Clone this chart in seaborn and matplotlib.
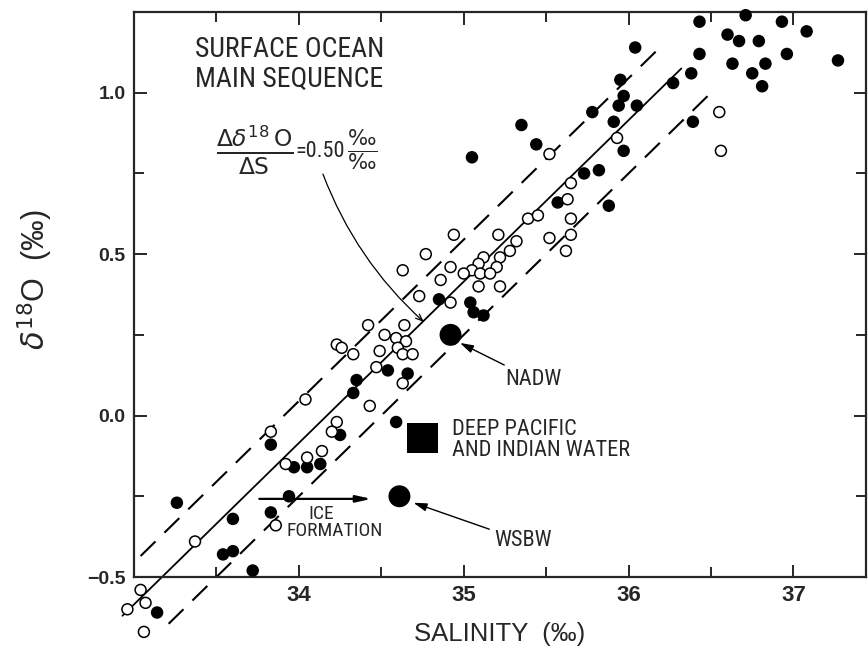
import matplotlib
matplotlib.use("Agg")
import matplotlib.pyplot as plt
from matplotlib.ticker import FixedLocator
from matplotlib import font_manager
import numpy as np
import pandas as pd
import seaborn as sns

# surface water samples, filled symbols
filled_sal = [33.26, 33.60, 33.54, 33.60, 33.72, 33.83, 33.94, 33.14,
              33.83, 34.25, 34.59, 34.05, 33.97, 34.13, 34.35, 34.33,
              34.54, 34.66, 34.85, 35.04, 35.06, 35.12,
              35.57, 35.88, 35.05, 35.35, 35.44, 35.78, 35.94, 36.05,
              35.91, 35.97, 35.73, 35.82, 35.95, 35.97, 36.04, 36.27,
              36.38, 36.39, 36.43, 36.43, 36.60, 36.67, 36.71, 36.79,
              36.63, 36.75, 36.83, 36.81, 36.93, 36.96, 37.08, 37.27]
filled_d18o = [-0.27, -0.32, -0.43, -0.42, -0.48, -0.30, -0.25, -0.61,
               -0.09, -0.06, -0.02, -0.16, -0.16, -0.15, 0.11, 0.07,
               0.14, 0.13, 0.36, 0.35, 0.32, 0.31,
               0.66, 0.65, 0.80, 0.90, 0.84, 0.94, 0.96, 0.96,
               0.91, 0.82, 0.75, 0.76, 1.04, 0.99, 1.14, 1.03,
               1.06, 0.91, 1.12, 1.22, 1.18, 1.16, 1.24, 1.16,
               1.09, 1.06, 1.09, 1.02, 1.22, 1.12, 1.19, 1.10]

# surface water samples, open symbols
open_sal = [33.37, 33.86, 33.04, 33.07, 32.96, 33.06,
            34.04, 33.83, 34.23, 34.20, 34.43, 34.14, 34.05, 33.92,
            34.47, 34.63,
            34.94, 34.77, 34.63, 34.92, 34.86, 35.12, 35.09, 35.05,
            35.00, 35.10, 35.09, 34.73, 34.92, 34.42, 34.64, 34.52,
            34.59, 34.65, 34.60, 34.23, 34.26, 34.33, 34.49, 34.63,
            34.69,
            35.65, 35.63, 35.65, 35.39, 35.45, 35.21, 35.32, 35.28,
            35.52, 35.65, 35.62, 35.22, 35.20, 35.16, 35.22,
            35.52, 35.93, 36.55, 36.56]
open_d18o = [-0.39, -0.34, -0.54, -0.58, -0.60, -0.67,
             0.05, -0.05, -0.02, -0.05, 0.03, -0.11, -0.13, -0.15,
             0.15, 0.10,
             0.56, 0.50, 0.45, 0.46, 0.42, 0.49, 0.47, 0.45,
             0.44, 0.44, 0.40, 0.37, 0.35, 0.28, 0.28, 0.25,
             0.24, 0.23, 0.21, 0.22, 0.21, 0.19, 0.20, 0.19,
             0.19,
             0.72, 0.67, 0.61, 0.61, 0.62, 0.56, 0.54, 0.51,
             0.55, 0.56, 0.51, 0.49, 0.46, 0.44, 0.40,
             0.81, 0.86, 0.94, 0.82]

# deep water masses
deep_names = ["NADW", "DEEP PACIFIC\nAND INDIAN WATER", "WSBW"]
deep_sal = [34.92, 34.75, 34.61]
deep_d18o = [0.25, -0.07, -0.25]
deep_shape = ["circle", "square", "circle"]

# main sequence: d18O = slope * S + intercept, with a band either side
slope = 0.50
intercept = -17.085
band_offsets = [0.13, -0.165]
solid_ends = [32.93, 36.32]
upper_ends = [33.04, 36.19]
lower_ends = [33.21, 36.48]

# ice formation shifts salinity at constant d18O
ice_sal = [33.76, 34.44]
ice_d18o = -0.258

sns.set_style("ticks")
plt.rcParams["font.family"] = ["Liberation Sans", "DejaVu Sans"]

# pick a condensed face if one is installed
installed = {f.name for f in font_manager.fontManager.ttflist}
narrow = [f for f in ["Liberation Sans Narrow", "DejaVu Sans Condensed",
                      "Roboto Condensed", "Open Sans Condensed"] if f in installed]
squeeze = 1.0 if narrow else 0.84
narrow = narrow + ["Liberation Sans", "DejaVu Sans"]

fig = plt.figure(figsize=(8.68, 6.48), dpi=100)
ax = fig.add_axes([134 / 868, 1 - 577 / 648, 732 / 868, 565 / 648])

# fit lines
s = np.array(solid_ends)
ax.plot(s, slope * s + intercept, color="black", lw=1.3, clip_on=False, zorder=2)
s = np.array(upper_ends)
ax.plot(s, slope * s + intercept + band_offsets[0], color="black", lw=1.5,
        dashes=(10, 6), clip_on=False, zorder=2)
s = np.array(lower_ends)
ax.plot(s, slope * s + intercept + band_offsets[1], color="black", lw=1.5,
        dashes=(10, 6), clip_on=False, zorder=2)

df = pd.DataFrame({
    "salinity": filled_sal + open_sal,
    "d18o": filled_d18o + open_d18o,
    "symbol": ["filled"] * len(filled_sal) + ["open"] * len(open_sal),
})
sns.scatterplot(data=df, x="salinity", y="d18o", hue="symbol",
                palette={"filled": "black", "open": "white"},
                edgecolor="black", linewidth=1.1, s=62, legend=False,
                clip_on=False, zorder=3, ax=ax)

deep = pd.DataFrame({"salinity": deep_sal, "d18o": deep_d18o,
                     "shape": deep_shape})
sns.scatterplot(data=deep, x="salinity", y="d18o", style="shape",
                markers={"circle": "o", "square": "s"}, size="shape",
                sizes={"circle": 250, "square": 470}, color="black",
                linewidth=0, legend=False, zorder=4, ax=ax)

lab = 16 * squeeze
# labels of the deep waters
ax.annotate(deep_names[0], xy=(34.977, 0.225), xytext=(35.25, 0.112),
            ha="left", va="center", fontsize=lab, family=narrow,
            arrowprops=dict(arrowstyle="-|>,head_length=0.5,head_width=0.15",
                            color="black", lw=1.0, shrinkA=1, shrinkB=0))
ax.text(34.93, -0.075, deep_names[1], ha="left", va="center", fontsize=lab,
        family=narrow, linespacing=1.0 / squeeze)
ax.annotate(deep_names[2], xy=(34.695, -0.27), xytext=(35.183, -0.388),
            ha="left", va="center", fontsize=lab, family=narrow,
            arrowprops=dict(arrowstyle="-|>,head_length=0.5,head_width=0.15",
                            color="black", lw=1.0, shrinkA=1, shrinkB=0))

# ice formation arrow
ax.annotate("", xy=(ice_sal[1], ice_d18o), xytext=(ice_sal[0], ice_d18o),
            arrowprops=dict(arrowstyle="-|>,head_length=0.9,head_width=0.2",
                            color="black", lw=1.6, shrinkA=0, shrinkB=0))
ax.text(34.138, -0.305, "ICE", ha="center", va="center", fontsize=14 * squeeze,
        family=narrow)
ax.text(34.219, -0.357, "FORMATION", ha="center", va="center",
        fontsize=14 * squeeze, family=narrow)

# title block and slope
ax.text(33.37, 1.175, "SURFACE OCEAN\nMAIN SEQUENCE", ha="left", va="top",
        fontsize=20 * squeeze, family=narrow, linespacing=1.15 / squeeze)
ax.text(33.735, 0.823, r"$\frac{\Delta\delta^{18}\,\mathrm{O}}{\Delta \mathrm{S}}$",
        ha="center", va="center", fontsize=24)
ax.text(33.976, 0.818, "=0.50", ha="left", va="center", fontsize=16,
        family=narrow)
ax.text(34.385, 0.823, r"$\frac{‰}{‰}$", ha="center", va="center", fontsize=22)
ax.annotate("", xy=(34.758, 0.290), xytext=(34.146, 0.748),
            arrowprops=dict(arrowstyle="->,head_length=0.5,head_width=0.2",
                            connectionstyle="arc3,rad=0.12",
                            color="black", lw=0.9, shrinkA=0, shrinkB=0))

ax.set_xlim(33.0, 37.44)
ax.set_ylim(-0.5, 1.25)
ax.xaxis.set_major_locator(FixedLocator([34, 35, 36, 37]))
ax.xaxis.set_minor_locator(FixedLocator([33.5, 34.5, 35.5, 36.5]))
ax.yaxis.set_major_locator(FixedLocator([-0.5, 0.0, 0.5, 1.0]))
ax.yaxis.set_minor_locator(FixedLocator([-0.25, 0.25, 0.75]))
ax.set_yticklabels(["\u22120.5", "0.0", "0.5", "1.0"])
ax.tick_params(which="both", direction="in", top=True, right=True, width=1.4)
ax.tick_params(which="major", length=9)
ax.tick_params(which="minor", length=7)
ax.tick_params(axis="x", labelsize=16, pad=6)
ax.tick_params(axis="y", labelsize=14, pad=6)
for t in ax.get_xticklabels() + ax.get_yticklabels():
    t.set_fontweight("bold")
for sp in ax.spines.values():
    sp.set_linewidth(1.6)

ax.set_xlabel("SALINITY  (‰)", fontsize=18.5)
ax.xaxis.set_label_coords(0.5, -0.08)
ax.set_ylabel(r"$\delta^{18}$O  (‰)", fontsize=22)
ax.yaxis.set_label_coords(-0.108, 0.526)

fig.savefig("out.png", dpi=100)
